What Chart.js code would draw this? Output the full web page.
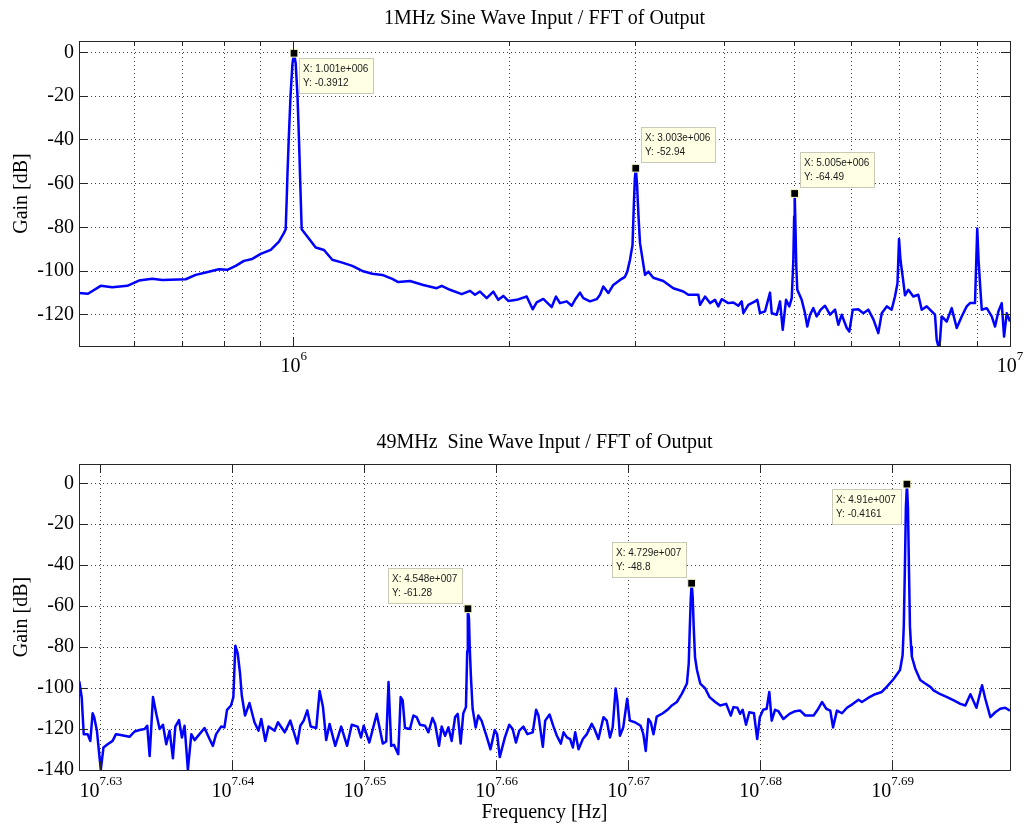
<!DOCTYPE html>
<html>
<head>
<meta charset="utf-8">
<title>FFT of Output</title>
<script src="https://cdn.jsdelivr.net/npm/chart.js@4.4.1/dist/chart.umd.min.js"></script>
<style>
  html, body { margin: 0; padding: 0; background: #fff; }
  #wrap { position: relative; width: 1025px; height: 825px; }
  canvas { position: absolute; left: 0; }
  #topChart { top: 0; }
  #bottomChart { top: 405px; }
</style>
</head>
<body>
<div id="wrap">
  <canvas id="topChart" width="1025" height="405"></canvas>
  <canvas id="bottomChart" width="1025" height="420"></canvas>
</div>
<script>
// 1 MHz input: output spectrum, frequency in MHz, gain in dB
const topFreqMHz = [
  0.5015, 0.5162, 0.5377, 0.5581, 0.5857, 0.6081, 0.6347, 0.6554, 0.7066, 0.7297,
  0.7536, 0.7864, 0.8079, 0.8299, 0.8523, 0.8753, 0.8994, 0.9288, 0.9538, 0.9693,
  0.9746, 0.9778, 0.9803, 0.9841, 0.9898, 0.9961, 1.001, 1.0064, 1.0123, 1.0172,
  1.0214, 1.026, 1.0447, 1.0733, 1.1022, 1.1321, 1.1691, 1.2072, 1.2466, 1.2874,
  1.3294, 1.3728, 1.3996, 1.4532, 1.5166, 1.5836, 1.6093, 1.6528, 1.7162, 1.7626,
  1.7912, 1.82, 1.8597, 1.8996, 1.9304, 1.9616, 1.9934, 2.048, 2.1148, 2.156,
  2.1839, 2.2307, 2.2918, 2.3237, 2.3537, 2.405, 2.444, 2.47, 2.5101, 2.5369,
  2.5921, 2.6486, 2.6768, 2.7054, 2.7492, 2.7938, 2.8548, 2.9009, 2.9224, 2.9478,
  2.9717, 2.9842, 2.9937, 3.003, 3.015, 3.0296, 3.0442, 3.0935, 3.1265, 3.1771,
  3.281, 3.3881, 3.4988, 3.5555, 3.6718, 3.692, 3.7518, 3.8125, 3.8742, 3.9156,
  3.9585, 4.0434, 4.109, 4.1756, 4.2215, 4.2432, 4.3121, 4.4059, 4.4385, 4.4773,
  4.5499, 4.6237, 4.649, 4.7244, 4.7748, 4.8165, 4.8678, 4.9197, 4.9578, 4.9833,
  4.9963, 5.005, 5.018, 5.031, 5.047, 5.119, 5.174, 5.212, 5.258, 5.314,
  5.372, 5.442, 5.518, 5.607, 5.699, 5.759, 5.822, 5.917, 5.966, 6.032,
  6.141, 6.241, 6.341, 6.444, 6.549, 6.621, 6.728, 6.836, 6.909, 6.965,
  7.0, 7.033, 7.083, 7.135, 7.212, 7.328, 7.447, 7.529, 7.651, 7.775,
  7.858, 7.901, 7.967, 8.029, 8.159, 8.291, 8.426, 8.562, 8.7, 8.793,
  8.936, 9.0, 9.039, 9.082, 9.132, 9.28, 9.43, 9.531, 9.633, 9.738,
  9.811, 9.896, 10.0
];
const topGainDb = [
  -110, -110.3, -106.7, -107.3, -106.7, -104.3, -103.5, -104, -103.7, -101.7,
  -100.6, -99.1, -99.4, -97.6, -95.3, -94.4, -92.1, -90.3, -86.5, -82.5,
  -80.8, -67, -55, -40, -20, -5, -0.3912, -5, -20, -40,
  -60, -80.8, -84.2, -89.2, -90.3, -94.8, -96.1, -97.6, -99.9, -101.2,
  -101.7, -103.5, -105, -104.5, -106.3, -107.8, -106.7, -108.5, -110.5, -109,
  -110.8, -109.3, -112.3, -109.3, -113.1, -111.3, -113.6, -113.1, -111.6, -117.4,
  -114.3, -112.7, -116.4, -111.6, -114.6, -113.8, -115.8, -113.1, -109.8, -112.3,
  -113.8, -112.8, -110.8, -107, -110, -106.3, -104, -102.6, -100.2, -94.8,
  -88, -70, -58, -52.94, -60, -75, -87.2, -101.7, -100.2, -103,
  -104.5, -107.8, -109.3, -110.8, -110.8, -115.4, -111.6, -114.6, -113.1, -116.1,
  -112.8, -114.6, -114.3, -115.8, -113.8, -119.2, -115.4, -113.8, -113.1, -119.2,
  -118.4, -109.8, -119.2, -119.9, -113.8, -126.8, -113.1, -116.1, -112.3, -95,
  -75, -64.49, -80, -97.9, -108.5, -113.1, -119.2, -125.3, -119.9, -116.9,
  -120.7, -117.6, -115.8, -119.9, -117.6, -124.5, -119.9, -126, -127.6, -117.6,
  -117.4, -119.2, -117.6, -121.9, -128.3, -119.2, -116.1, -117.6, -111.6, -105.5,
  -85.3, -95, -102.6, -111, -108.5, -111.6, -110.8, -117.6, -116.1, -118.4,
  -119.9, -131.4, -136, -120.7, -123, -116.9, -126, -120.7, -116.1, -114.6,
  -114.6, -80.5, -95, -105.9, -117.6, -116.9, -120.7, -125.3, -118.4, -114.6,
  -129.9, -119.2, -123
];
const topTipMHz = [1.001, 3.003, 5.005];
const topTipDb = [-0.3912, -52.94, -64.49];
const topTipPlace = ['se', 'ne', 'ne'];
const topGridHz = [6e5, 7e5, 8e5, 9e5, 1e6, 2e6, 3e6, 4e6, 5e6, 6e6, 7e6, 8e6, 9e6, 1e7];
const topLabelHz = [1e6, 1e7];
const topYTicks = [0, -20, -40, -60, -80, -100, -120];

// 49 MHz input
const bottomFreqMHz = [
  42.492, 42.499, 42.516, 42.531, 42.560, 42.580, 42.597, 42.609, 42.629, 42.646,
  42.658, 42.678, 42.709, 42.746, 42.771, 42.796, 42.872, 42.910, 42.947, 42.985,
  43.005, 43.023, 43.048, 43.073, 43.098, 43.123, 43.148, 43.173, 43.198, 43.216,
  43.244, 43.266, 43.286, 43.311, 43.337, 43.362, 43.399, 43.437, 43.475, 43.500,
  43.525, 43.563, 43.588, 43.608, 43.638, 43.656, 43.671, 43.689, 43.707, 43.720,
  43.745, 43.779, 43.817, 43.848, 43.869, 43.900, 43.925, 43.971, 43.997, 44.049,
  44.092, 44.146, 44.169, 44.195, 44.223, 44.249, 44.292, 44.318, 44.344, 44.369,
  44.395, 44.439, 44.485, 44.531, 44.567, 44.613, 44.639, 44.660, 44.704, 44.762,
  44.809, 44.836, 44.854, 44.875, 44.896, 44.930, 44.949, 44.965, 44.983, 45.022,
  45.049, 45.075, 45.101, 45.141, 45.167, 45.199, 45.220, 45.251, 45.272, 45.299,
  45.325, 45.351, 45.378, 45.399, 45.422, 45.443, 45.464, 45.474, 45.478, 45.48,
  45.488, 45.494, 45.504, 45.517, 45.541, 45.562, 45.588, 45.627, 45.659, 45.693,
  45.712, 45.733, 45.774, 45.809, 45.836, 45.862, 45.889, 45.922, 45.954, 45.997,
  46.024, 46.043, 46.078, 46.097, 46.132, 46.164, 46.191, 46.223, 46.245, 46.272,
  46.298, 46.320, 46.339, 46.366, 46.401, 46.433, 46.473, 46.495, 46.527, 46.568,
  46.595, 46.621, 46.643, 46.667, 46.681, 46.702, 46.729, 46.761, 46.783, 46.824,
  46.871, 46.893, 46.913, 46.934, 46.954, 46.976, 47.003, 47.053, 47.091, 47.127,
  47.168, 47.210, 47.251, 47.266, 47.274, 47.283, 47.29, 47.299, 47.307, 47.318,
  47.334, 47.361, 47.402, 47.438, 47.485, 47.526, 47.576, 47.614, 47.636, 47.669,
  47.691, 47.713, 47.741, 47.768, 47.807, 47.834, 47.856, 47.884, 47.913, 47.935,
  47.955, 47.983, 48.011, 48.053, 48.104, 48.152, 48.194, 48.237, 48.307, 48.341,
  48.378, 48.414, 48.448, 48.471, 48.504, 48.547, 48.589, 48.640, 48.687, 48.716,
  48.772, 48.828, 48.885, 48.927, 48.983, 49.041, 49.063, 49.073, 49.083, 49.091,
  49.1, 49.109, 49.117, 49.126, 49.136, 49.142, 49.171, 49.214, 49.257, 49.301,
  49.329, 49.387, 49.445, 49.503, 49.560, 49.603, 49.647, 49.699, 49.748, 49.776,
  49.820, 49.863, 49.906, 49.949, 49.990
];
const bottomGainDb = [
  -109.3, -97, -104.4, -122.5, -122.5, -125.8, -112.3, -114.2, -120.8, -132.3,
  -139.8, -129, -127.4, -125.8, -122.5, -122.8, -123.8, -121.2, -120.5, -120,
  -118.4, -133.2, -104.4, -112.6, -120, -117.9, -127.4, -120.8, -134.3, -118.8,
  -115.6, -124.1, -118.4, -139.8, -122.5, -125.4, -122.5, -119.5, -124.9, -128.2,
  -122.5, -118.8, -119.2, -110.6, -108.5, -104.4, -79.3, -83, -92.8, -103.5,
  -113.4, -107.3, -116.7, -120.8, -115.1, -125.8, -118.8, -120.8, -116.7, -121.6,
  -115.9, -127.1, -118.4, -115.9, -110.9, -118.8, -119.5, -101.4, -109.3, -125.4,
  -117.5, -128.2, -118.8, -128.2, -117.9, -118.8, -124.1, -118.4, -126.6, -112.6,
  -127.1, -126.1, -97, -128.2, -127.7, -132.3, -104.4, -106, -119.5, -120,
  -113.4, -114.2, -117.9, -118.4, -121.6, -114.6, -117.5, -128.2, -118.8, -123.3,
  -119.2, -125.8, -114.2, -112.6, -127.1, -112.3, -109.3, -82, -68, -61.28,
  -66, -80, -95, -110.1, -119.2, -113.4, -115.9, -123.3, -129.9, -120.5,
  -122.5, -133.7, -124.1, -117.9, -120, -126.6, -120.8, -118.8, -122.5, -121.6,
  -110.6, -113.4, -128.7, -115.9, -112.9, -118.8, -123.3, -127.1, -121.6, -124.1,
  -124.9, -129, -121.6, -129.9, -124.9, -122.5, -117.5, -120, -124.9, -114.2,
  -115.9, -124.1, -119.2, -100.2, -106, -123.3, -119.2, -105.2, -115.9, -116.7,
  -118.4, -122.5, -130.7, -115.1, -116.7, -122.5, -113.9, -112.3, -110.6, -108.5,
  -106.8, -102.7, -97.8, -88, -72, -56, -48.8, -56, -70, -85,
  -91.2, -97.8, -100.2, -104.4, -106.8, -108.5, -107.7, -113.4, -109.3, -109.6,
  -112.6, -110.6, -117.9, -111.8, -112.3, -124.9, -114.2, -110.6, -110.1, -101.9,
  -115.9, -110.6, -111.3, -115.1, -112.6, -111.3, -111, -113.4, -113.4, -110.6,
  -106.8, -110.1, -111, -119.2, -111, -112.3, -109.6, -107.7, -105.7, -106.8,
  -104.7, -103, -101.9, -99.4, -95.8, -91.2, -84, -70, -40, -12,
  -0.4161, -12, -40, -70, -80, -84.6, -90.4, -96.1, -97.8, -99.4,
  -101.1, -103, -104.4, -106, -107.7, -108.5, -103, -109.6, -98.6, -105.2,
  -114.2, -111.8, -110.1, -109.6, -111
];
const bottomTipMHz = [45.48, 47.29, 49.1];
const bottomTipDb = [-61.28, -48.8, -0.4161];
const bottomTipPlace = ['nw', 'nw', 'sw'];
const bottomTickExp = [7.63, 7.64, 7.65, 7.66, 7.67, 7.68, 7.69];
const bottomYTicks = [0, -20, -40, -60, -80, -100, -120, -140];

const SERIF = '"Liberation Serif", "Times New Roman", serif';
const SANS = '"Liberation Sans", Arial, sans-serif';

Chart.defaults.font.family = SERIF;
Chart.defaults.font.size = 20;
Chart.defaults.color = '#000';

// MATLAB-like %.4g for data tips, with 3 digit exponents
function fmtX(v) {
  const [m, e] = Number(v.toPrecision(4)).toExponential().split('e');
  const sign = e[0] === '-' ? '-' : '+';
  return m + 'e' + sign + e.replace(/^[+-]/, '').padStart(3, '0');
}

function fmtY(v) {
  return String(Number(v.toPrecision(4)));
}

function toPoints(freqMHz, gain) {
  return freqMHz.map((f, i) => ({ x: f * 1e6, y: gain[i] }));
}

function alignPx(p) {
  return Math.round(p - 0.5) + 0.5;
}

// box, inward ticks, "10^n" tick labels and data tips
const matlabAxes = {
  id: 'matlabAxes',
  afterDraw(chart, args, opts) {
    const { ctx, chartArea: a } = chart;
    const xs = chart.scales.x;
    const ys = chart.scales.y;
    ctx.save();

    ctx.strokeStyle = '#262626';
    ctx.lineWidth = 1;
    ctx.beginPath();
    xs.ticks.forEach((t) => {
      const px = alignPx(xs.getPixelForValue(t.value));
      const len = opts.isMajor(t.value) ? 9 : 5;
      ctx.moveTo(px, a.bottom);
      ctx.lineTo(px, a.bottom - len);
      ctx.moveTo(px, a.top);
      ctx.lineTo(px, a.top + len);
    });
    ys.ticks.forEach((t) => {
      const py = alignPx(ys.getPixelForValue(t.value));
      ctx.moveTo(a.left, py);
      ctx.lineTo(a.left + 9, py);
      ctx.moveTo(a.right, py);
      ctx.lineTo(a.right - 9, py);
    });
    ctx.stroke();
    ctx.strokeRect(alignPx(a.left), alignPx(a.top), Math.round(a.right - a.left), Math.round(a.bottom - a.top));

    // tick labels as 10 with a raised exponent
    const baseFont = '20px ' + SERIF;
    const expFont = '13px ' + SERIF;
    ctx.fillStyle = '#000';
    ctx.textAlign = 'left';
    ctx.textBaseline = 'alphabetic';
    opts.labels.forEach(({ value, exp }) => {
      const px = xs.getPixelForValue(value);
      ctx.font = baseFont;
      const wb = ctx.measureText('10').width;
      ctx.font = expFont;
      const we = ctx.measureText(exp).width;
      const x0 = px - (wb + we) / 2;
      ctx.font = baseFont;
      ctx.fillText('10', x0, a.bottom + opts.baseDrop);
      ctx.font = expFont;
      ctx.fillText(exp, x0 + wb, a.bottom + opts.expDrop);
    });

    // data tips next to the marked peaks
    const meta = chart.getDatasetMeta(0);
    ctx.font = '10px ' + SANS;
    ctx.textBaseline = 'middle';
    meta.data.forEach((pt, i) => {
      const lines = ['X: ' + fmtX(opts.tipX[i] * 1e6), 'Y: ' + fmtY(opts.tipY[i])];
      const w = Math.round(Math.max(...lines.map((s) => ctx.measureText(s).width)) + 10);
      const h = 36;
      const place = opts.tipPlace[i];
      const bx = Math.round(place.includes('e') ? pt.x + 5 : pt.x - 5 - w);
      const by = Math.round(place.includes('s') ? pt.y + 5 : pt.y - 5 - h);
      ctx.fillStyle = '#ffffe4';
      ctx.fillRect(bx, by, w, h);
      ctx.strokeStyle = '#c9c9b8';
      ctx.strokeRect(bx + 0.5, by + 0.5, w - 1, h - 1);
      ctx.fillStyle = '#1a1a1a';
      ctx.fillText(lines[0], bx + 4, by + 11.5);
      ctx.fillText(lines[1], bx + 4, by + 25);
    });

    ctx.restore();
  }
};

function makeChart(canvasId, cfg) {
  const ctx = document.getElementById(canvasId).getContext('2d');
  return new Chart(ctx, {
    type: 'line',
    data: {
      datasets: [
        {
          data: toPoints(cfg.tipX, cfg.tipY),
          showLine: false,
          pointStyle: 'rect',
          pointRadius: 5.5,
          pointBackgroundColor: '#000',
          pointBorderColor: '#ffffc8',
          pointBorderWidth: 1,
          order: 0
        },
        {
          data: toPoints(cfg.freq, cfg.gain),
          borderColor: '#0000ff',
          borderWidth: 2.5,
          borderJoinStyle: 'round',
          pointRadius: 0,
          tension: 0,
          fill: false,
          order: 1
        }
      ]
    },
    options: {
      responsive: false,
      devicePixelRatio: 1,
      animation: false,
      events: [],
      layout: { padding: { left: 0, right: 15, top: 0, bottom: 0 } },
      scales: {
        x: {
          type: 'logarithmic',
          min: cfg.xMin,
          max: cfg.xMax,
          afterBuildTicks: (scale) => {
            scale.ticks = cfg.gridX.map((v) => ({ value: v }));
          },
          afterFit: (scale) => {
            scale.height = cfg.xHeight;
          },
          ticks: { display: false },
          grid: { color: '#404040', lineWidth: 1, drawTicks: false },
          border: { display: false, dash: [1, 3] },
          title: {
            display: !!cfg.xTitle,
            text: cfg.xTitle || '',
            font: { size: 20 },
            padding: { top: 0, bottom: 0 }
          }
        },
        y: {
          min: cfg.yMin,
          max: cfg.yMax,
          afterBuildTicks: (scale) => {
            scale.ticks = cfg.yTicks.map((v) => ({ value: v }));
          },
          afterFit: (scale) => {
            scale.width = 79;
          },
          ticks: { padding: 5, font: { size: 20 }, color: '#000' },
          grid: { color: '#404040', lineWidth: 1, drawTicks: false },
          border: { display: false, dash: [1, 3] },
          title: {
            display: true,
            text: 'Gain [dB]',
            font: { size: 20 },
            padding: { top: 9.7, bottom: 0 }
          }
        }
      },
      plugins: {
        legend: { display: false },
        tooltip: { enabled: false },
        title: {
          display: true,
          text: cfg.title,
          fullSize: false,
          color: '#000',
          font: { size: 20, weight: 'normal' },
          padding: cfg.titlePad
        },
        matlabAxes: {
          labels: cfg.labels,
          isMajor: cfg.isMajor,
          baseDrop: cfg.baseDrop,
          expDrop: cfg.expDrop,
          tipX: cfg.tipX,
          tipY: cfg.tipY,
          tipPlace: cfg.tipPlace
        }
      }
    },
    plugins: [matlabAxes]
  });
}

makeChart('topChart', {
  title: '1MHz Sine Wave Input / FFT of Output',
  titlePad: { top: 6.4, bottom: 10.6 },
  freq: topFreqMHz,
  gain: topGainDb,
  tipX: topTipMHz,
  tipY: topTipDb,
  tipPlace: topTipPlace,
  xMin: 5.015e5,
  xMax: 1e7,
  yMin: -134.2,
  yMax: 5.2,
  gridX: topGridHz,
  yTicks: topYTicks,
  labels: topLabelHz.map((v) => ({ value: v, exp: String(Math.round(Math.log10(v))) })),
  isMajor: (v) => topLabelHz.includes(v),
  xHeight: 59,
  baseDrop: 26,
  expDrop: 14
});

makeChart('bottomChart', {
  title: '49MHz  Sine Wave Input / FFT of Output',
  titlePad: { top: 26, bottom: 9 },
  freq: bottomFreqMHz,
  gain: bottomGainDb,
  tipX: bottomTipMHz,
  tipY: bottomTipDb,
  tipPlace: bottomTipPlace,
  xMin: 4.2496e7,
  xMax: 4.9991e7,
  yMin: -140,
  yMax: 9.4,
  gridX: bottomTickExp.map((e) => Math.pow(10, e)),
  yTicks: bottomYTicks,
  labels: bottomTickExp.map((e) => ({ value: Math.pow(10, e), exp: e.toFixed(2) })),
  isMajor: () => true,
  xHeight: 55,
  xTitle: 'Frequency [Hz]',
  baseDrop: 27,
  expDrop: 15
});
</script>
</body>
</html>
